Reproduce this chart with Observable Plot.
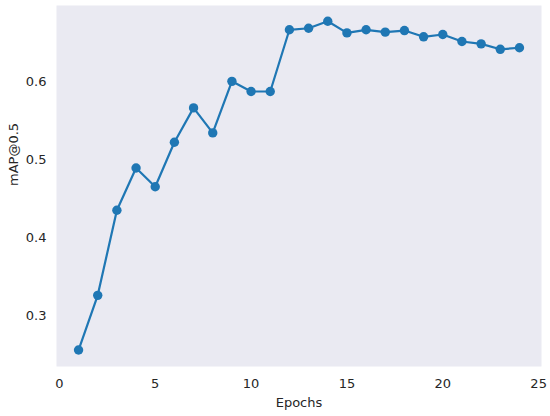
<!DOCTYPE html>
<html>
<head>
<meta charset="utf-8">
<script src="https://cdn.jsdelivr.net/npm/d3@7"></script>
<script src="https://cdn.jsdelivr.net/npm/@observablehq/plot@0.6"></script>
<style>
  html, body { margin: 0; padding: 0; background: #ffffff; }
  #chart svg { display: block; }
</style>
</head>
<body>
<div id="chart"></div>
<script>
const epochs = [1,2,3,4,5,6,7,8,9,10,11,12,13,14,15,16,17,18,19,20,21,22,23,24];
const mAP = [0.256,0.326,0.435,0.489,0.465,0.522,0.566,0.534,0.600,0.587,0.587,0.666,0.668,0.677,0.662,0.666,0.663,0.665,0.657,0.660,0.651,0.648,0.641,0.643];
const xTicks = [0,5,10,15,20,25];
const yTicks = [0.3,0.4,0.5,0.6];
const xLabel = "Epochs";
const yLabel = "mAP@0.5";

const data = epochs.map((e, i) => ({epoch: e, value: mAP[i]}));

const ink = "#262626";
const blue = "#1f77b4";

const chart = Plot.plot({
  width: 550,
  height: 416,
  marginLeft: 56,
  marginRight: 9,
  marginTop: 5,
  marginBottom: 50,
  style: {fontFamily: "DejaVu Sans", fontSize: "13px", color: ink, background: "#ffffff"},
  x: {domain: [-0.15, 25.15]},
  y: {domain: [0.2349, 0.6971]},
  marks: [
    Plot.frame({fill: "#EAEAF2", stroke: null}),
    Plot.axisX({ticks: xTicks, tickSize: 0, tickPadding: 12.5, tickFormat: d3.format("d"), label: null, fontSize: 13, fill: ink}),
    Plot.axisY({ticks: yTicks, tickSize: 0, tickPadding: 10, tickFormat: d3.format(".1f"), label: null, fontSize: 13, fill: ink}),
    Plot.line(data, {x: "epoch", y: "value", stroke: blue, strokeWidth: 2.2}),
    Plot.dot(data, {x: "epoch", y: "value", r: 4.7, fill: blue, stroke: null}),
    Plot.text([xLabel], {frameAnchor: "bottom", dy: 36, lineAnchor: "middle", text: d => d, fontSize: 13, fill: ink}),
    Plot.text([yLabel], {frameAnchor: "left", dx: -43, rotate: -90, lineAnchor: "middle", text: d => d, fontSize: 13, fill: ink})
  ]
});
document.getElementById("chart").appendChild(chart);
</script>
</body>
</html>
